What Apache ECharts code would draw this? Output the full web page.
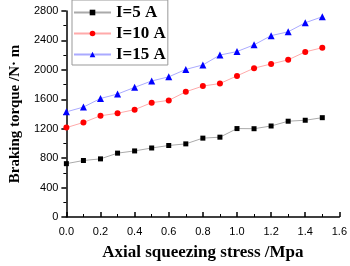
<!DOCTYPE html>
<html><head><meta charset="utf-8">
<script src="https://cdn.jsdelivr.net/npm/echarts@6/dist/echarts.min.js"></script>
<style>html,body{margin:0;padding:0;background:#fff}#c{width:350px;height:266px}</style>
</head><body><div id="c"></div>
<script>
const stress = [0.0,0.1,0.2,0.3,0.4,0.5,0.6,0.7,0.8,0.9,1.0,1.1,1.2,1.3,1.4,1.5];
const torque5A = [725,768,790,868,898,938,972,994,1072,1085,1202,1200,1237,1302,1315,1350];
const torque10A = [1215,1285,1376,1410,1459,1554,1585,1702,1780,1814,1918,2023,2080,2136,2244,2301];
const torque15A = [1429,1494,1611,1671,1762,1849,1905,2006,2067,2201,2249,2340,2465,2517,2640,2722];
const seriesNames = ['I=5 A','I=10 A','I=15 A'];

const chart = echarts.init(document.getElementById('c'), null, {renderer:'canvas'});
const pair = (ys) => stress.map((x,i)=>[x, ys[i]]);
const mk = (name, ys, symbol, mcol, lcol, size) => ({
  name, type:'line', data: pair(ys), symbol, symbolSize:size,
  itemStyle:{color:mcol}, lineStyle:{color:lcol, width:1},
  animation:false
});
chart.setOption({
  animation:false,
  grid:{left:54,right:8,top:11,bottom:40},
  legend:{
    left:72, top:0, orient:'vertical',
    itemGap:4, itemWidth:37, itemHeight:7,
    padding:[4,2,2,1],
    borderColor:'#999', borderWidth:1,
    textStyle:{fontFamily:'Liberation Serif', fontWeight:'bold', fontSize:17, lineHeight:16, color:'#000'},
    data: seriesNames.map(n=>({name:n}))
  },
  xAxis:{
    type:'value', min:0, max:1.6, interval:0.2,
    name:'Axial squeezing stress /Mpa', nameLocation:'middle', nameGap:27,
    nameTextStyle:{fontFamily:'Liberation Serif', fontWeight:'bold', fontSize:17, color:'#000'},
    axisLine:{lineStyle:{color:'#000', width:1.5}},
    axisTick:{inside:true, length:5, lineStyle:{color:'#000', width:1.5}},
    minorTick:{show:true, splitNumber:2, length:3, lineStyle:{color:'#000'}},
    axisLabel:{fontFamily:'Liberation Sans', fontSize:11, color:'#000', margin:9,
      formatter:v=>v.toFixed(1)},
    splitLine:{show:false}
  },
  yAxis:{
    type:'value', min:0, max:2800, interval:400,
    name:'Braking torque /N· m', nameLocation:'middle', nameGap:41,
    nameTextStyle:{fontFamily:'Liberation Serif', fontWeight:'bold', fontSize:15, color:'#000'},
    axisLine:{show:true, lineStyle:{color:'#000', width:1.5}},
    axisTick:{show:true, inside:false, length:5, lineStyle:{color:'#000', width:1.5}},
    minorTick:{show:true, splitNumber:2, length:3, lineStyle:{color:'#000'}},
    axisLabel:{fontFamily:'Liberation Sans', fontSize:11, color:'#000', margin:8,
      formatter:v=>String(v)},
    splitLine:{show:false}
  },
  series:[
    mk(seriesNames[0], torque5A, 'rect', '#000', '#aaaaaa', 5),
    mk(seriesNames[1], torque10A, 'circle', '#ff0000', '#ffaaaa', 6),
    mk(seriesNames[2], torque15A, 'triangle', '#0000ff', '#aaaaff', 7)
  ]
});
</script></body></html>
